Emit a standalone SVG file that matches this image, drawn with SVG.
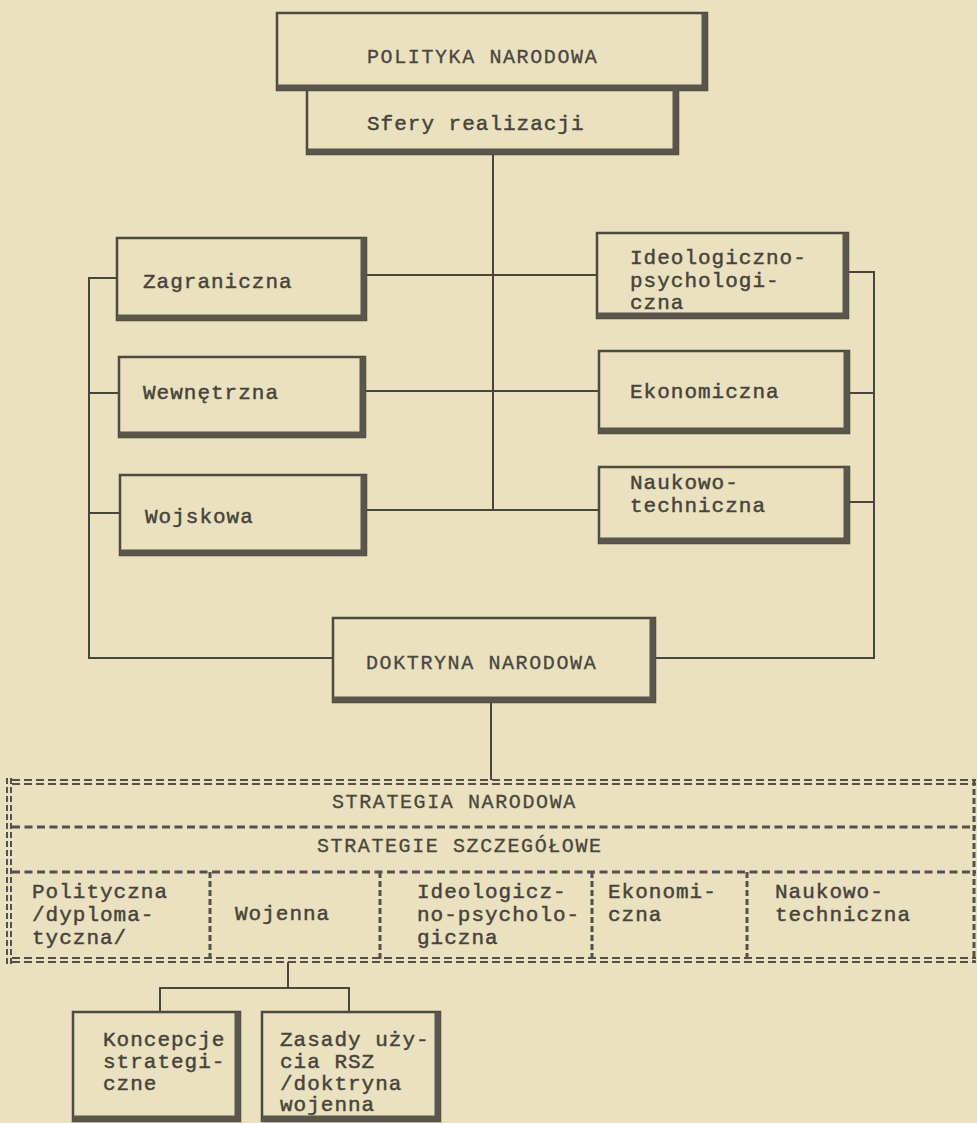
<svg xmlns="http://www.w3.org/2000/svg" width="977" height="1123" viewBox="0 0 977 1123">
<style>
.bg{fill:#e9e1bf}
.box{fill:none;stroke:#4e4a40;stroke-width:2.5}
.sh{fill:none;stroke:#5b564b;stroke-width:6;stroke-linejoin:miter}
.ln{fill:none;stroke:#4a463c;stroke-width:2}
.t{font-family:"Liberation Mono","DejaVu Sans Mono",monospace;font-size:21px;letter-spacing:1px;fill:#47433a;stroke:#47433a;stroke-width:0.45}
.c{font-family:"Liberation Mono","DejaVu Sans Mono",monospace;font-size:20px;letter-spacing:1.6px;fill:#4a463d;stroke:#4a463d;stroke-width:0.3}
.dd{fill:none;stroke:#55514a;stroke-width:2;stroke-dasharray:8 4}
.ds{fill:none;stroke:#55514a;stroke-width:3;stroke-dasharray:8 4.5}
.dv{fill:none;stroke:#55514a;stroke-width:3;stroke-dasharray:6 3}
.dv2{fill:none;stroke:#55514a;stroke-width:2;stroke-dasharray:6 3}
</style>
<rect class="bg" x="0" y="0" width="977" height="1123"/>

<g id="connectors">
  <path class="ln" d="M493 154 V510"/>
  <path class="ln" d="M366 275 H597"/>
  <path class="ln" d="M365 391 H599"/>
  <path class="ln" d="M366 510 H599"/>
  <path class="ln" d="M117 278 H89 V658 H333"/>
  <path class="ln" d="M119 393 H89"/>
  <path class="ln" d="M120 513 H89"/>
  <path class="ln" d="M848 272 H874 V658 H655"/>
  <path class="ln" d="M849 393 H874"/>
  <path class="ln" d="M849 502 H874"/>
  <path class="ln" d="M491 702 V780"/>
  <path class="ln" d="M288 962 V988"/>
  <path class="ln" d="M160 1012 V988 H349 V1012"/>
</g>

<g id="polityka">
  <rect class="box" x="277" y="13" width="430" height="77"/>
  <path class="sh" d="M704.5 13 V87.5 H277"/>
  <text class="c" x="367" y="63">POLITYKA NARODOWA</text>
</g>
<g id="sfery">
  <path class="box" d="M307 90 V154 H678 V90"/>
  <path class="sh" d="M675.5 90 V151.5 H307"/>
  <text class="t" x="367" y="130">Sfery realizacji</text>
</g>
<g id="zagraniczna">
  <rect class="box" x="117" y="238" width="249" height="82"/>
  <path class="sh" d="M363.5 238 V317.5 H117"/>
  <text class="t" x="143" y="288">Zagraniczna</text>
</g>
<g id="wewnetrzna">
  <rect class="box" x="119" y="357" width="246" height="80"/>
  <path class="sh" d="M362.5 357 V434.5 H119"/>
  <text class="t" x="143" y="399">Wewnętrzna</text>
</g>
<g id="wojskowa">
  <rect class="box" x="120" y="475" width="246" height="80"/>
  <path class="sh" d="M363.5 475 V552.5 H120"/>
  <text class="t" x="145" y="523">Wojskowa</text>
</g>
<g id="ideologiczno">
  <rect class="box" x="597" y="233" width="251" height="85"/>
  <path class="sh" d="M845.5 233 V315.5 H597"/>
  <text class="t" x="630" y="264">Ideologiczno-</text>
  <text class="t" x="630" y="287">psychologi-</text>
  <text class="t" x="630" y="309">czna</text>
</g>
<g id="ekonomiczna">
  <rect class="box" x="599" y="351" width="250" height="82"/>
  <path class="sh" d="M846.5 351 V430.5 H599"/>
  <text class="t" x="630" y="398">Ekonomiczna</text>
</g>
<g id="naukowo">
  <rect class="box" x="599" y="467" width="250" height="76"/>
  <path class="sh" d="M846.5 467 V540.5 H599"/>
  <text class="t" x="630" y="489">Naukowo-</text>
  <text class="t" x="630" y="512">techniczna</text>
</g>
<g id="doktryna">
  <rect class="box" x="333" y="618" width="322" height="84"/>
  <path class="sh" d="M652.5 618 V699.5 H333"/>
  <text class="c" x="366" y="669">DOKTRYNA NARODOWA</text>
</g>

<g id="strategia">
  <path class="dd" d="M12 780 H976"/>
  <path class="dd" d="M12 784 H976"/>
  <path class="ds" d="M12 827 H976"/>
  <path class="ds" d="M12 872 H976"/>
  <path class="dd" d="M12 958 H976"/>
  <path class="dd" d="M12 962 H976"/>
  <path class="dv2" d="M7 778 V964"/>
  <path class="dv2" d="M11 778 V964"/>
  <path class="dv" d="M974 780 V962"/>
  <path class="dv" d="M210 872 V960"/>
  <path class="dv" d="M380 872 V960"/>
  <path class="dv" d="M592 872 V960"/>
  <path class="dv" d="M747 872 V960"/>
  <text class="c" x="332" y="808">STRATEGIA NARODOWA</text>
  <text class="c" x="317" y="852">STRATEGIE SZCZEGÓŁOWE</text>
  <g id="col-polityczna">
    <text class="t" x="32" y="898">Polityczna</text>
    <text class="t" x="32" y="921">/dyploma-</text>
    <text class="t" x="32" y="944">tyczna/</text>
  </g>
  <g id="col-wojenna">
    <text class="t" x="235" y="920">Wojenna</text>
  </g>
  <g id="col-ideolog">
    <text class="t" x="417" y="898">Ideologicz-</text>
    <text class="t" x="417" y="921">no-psycholo-</text>
    <text class="t" x="417" y="944">giczna</text>
  </g>
  <g id="col-ekonom">
    <text class="t" x="608" y="898">Ekonomi-</text>
    <text class="t" x="608" y="921">czna</text>
  </g>
  <g id="col-naukowo">
    <text class="t" x="775" y="898">Naukowo-</text>
    <text class="t" x="775" y="921">techniczna</text>
  </g>
</g>

<g id="koncepcje">
  <rect class="box" x="73" y="1012" width="167" height="109"/>
  <path class="sh" d="M237.5 1012 V1118.5 H73"/>
  <text class="t" x="103" y="1046">Koncepcje</text>
  <text class="t" x="103" y="1068">strategi-</text>
  <text class="t" x="103" y="1090">czne</text>
</g>
<g id="zasady">
  <rect class="box" x="262" y="1012" width="178" height="109"/>
  <path class="sh" d="M437.5 1012 V1118.5 H262"/>
  <text class="t" x="280" y="1046">Zasady uży-</text>
  <text class="t" x="280" y="1068">cia RSZ</text>
  <text class="t" x="280" y="1090">/doktryna</text>
  <text class="t" x="280" y="1111">wojenna</text>
</g>
</svg>
